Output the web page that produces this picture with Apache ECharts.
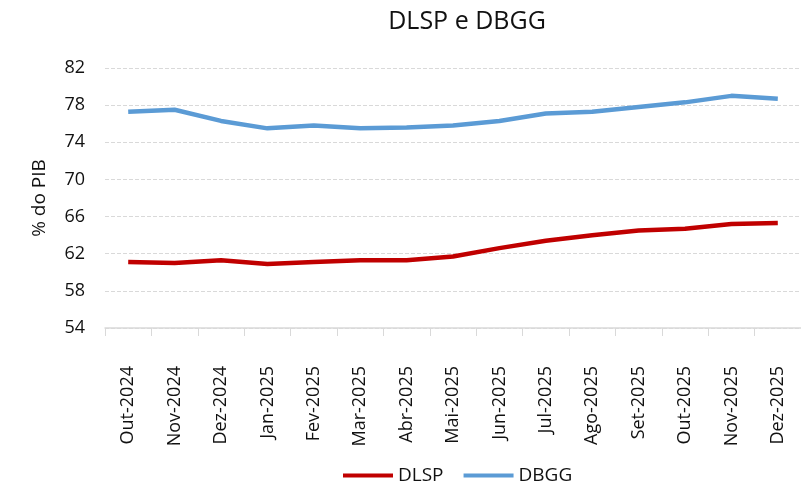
<!DOCTYPE html>
<html>
<head>
<meta charset="utf-8">
<script src="https://cdn.jsdelivr.net/npm/echarts@6/dist/echarts.min.js"></script>
<style>
  html, body { margin: 0; padding: 0; background: #fff; }
  #chart { width: 801px; height: 483px; }
</style>
</head>
<body>
<div id="chart"></div>
<script>
const months = ['Out-2024', 'Nov-2024', 'Dez-2024', 'Jan-2025', 'Fev-2025', 'Mar-2025', 'Abr-2025',
  'Mai-2025', 'Jun-2025', 'Jul-2025', 'Ago-2025', 'Set-2025', 'Out-2025', 'Nov-2025', 'Dez-2025']
const dlsp = [61.1, 61.0, 61.3, 60.9, 61.1, 61.3, 61.3, 61.7, 62.6, 63.4, 64.0, 64.5, 64.7, 65.2, 65.3]
const dbgg = [77.3, 77.5, 76.3, 75.5, 75.8, 75.5, 75.6, 75.8, 76.3, 77.1, 77.3, 77.8, 78.3, 79.0, 78.7]

const font = 'Open Sans'
const ink = '#111'
const chart = echarts.init(document.getElementById('chart'))

chart.setOption({
  backgroundColor: '#fff',
  animation: false,
  title: {
    text: 'DLSP e DBGG',
    left: 462,
    textAlign: 'center',
    top: 4,
    textStyle: { fontFamily: font, fontSize: 25, fontWeight: 'normal', color: ink }
  },
  legend: {
    top: 461,
    left: 338,
    itemWidth: 50,
    itemHeight: 4,
    itemGap: 20,
    icon: 'rect',
    textStyle: { fontFamily: font, fontSize: 19, color: ink },
    data: ['DLSP', 'DBGG']
  },
  grid: { left: 105, right: -9, top: 68, bottom: 155 },
  xAxis: {
    type: 'category',
    data: months,
    boundaryGap: true,
    axisLine: { lineStyle: { color: '#d9d9d9', width: 1.5 } },
    axisTick: { show: true, length: 8, lineStyle: { color: '#d9d9d9' } },
    axisLabel: { rotate: 90, margin: 38, interval: 0, fontFamily: font, fontSize: 18, color: ink }
  },
  yAxis: {
    type: 'value',
    min: 54,
    max: 82,
    interval: 4,
    name: '% do PIB',
    nameLocation: 'middle',
    nameGap: 56,
    nameTextStyle: { fontFamily: font, fontSize: 19, color: ink },
    axisLine: { show: false },
    axisTick: { show: false },
    axisLabel: { margin: 20, fontFamily: font, fontSize: 18, color: ink },
    splitLine: { lineStyle: { color: '#d9d9d9', type: [4, 2], width: 1 } }
  },
  series: [
    {
      name: 'DLSP',
      type: 'line',
      data: dlsp,
      symbol: 'none',
      color: '#c00000',
      lineStyle: { width: 4.5, color: '#c00000' }
    },
    {
      name: 'DBGG',
      type: 'line',
      data: dbgg,
      symbol: 'none',
      color: '#5b9bd5',
      lineStyle: { width: 4.5, color: '#5b9bd5' }
    }
  ]
})
</script>
</body>
</html>
